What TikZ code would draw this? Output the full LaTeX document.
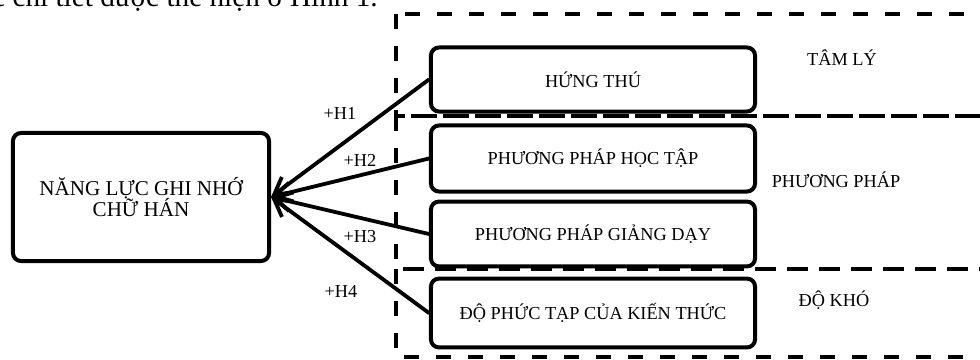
\documentclass[tikz,border=0pt]{standalone}
\usepackage{fontspec}
\setmainfont{Liberation Serif}
\usetikzlibrary{arrows.meta}
\tikzset{
  frame/.style={
    line width=1mm,
    line join=round
  },
  box/.style={
    frame,
    draw=black,
    rounded corners=0.2cm,
    minimum width=8.1cm,
    inner sep=0pt,
    font=\fontsize{13}{15}\selectfont
  },
  group-dash/.style={
    line width=1mm,
    dash pattern=on 3.75mm off 4.25mm
  },
  conn/.style={
    line width=0.95mm,
    line cap=round,
    -{Straight Barb[length=4.2mm,width=4.8mm]}
  },
  hlabel/.style={inner sep=0pt, font=\fontsize{13}{15}\selectfont},
  grouplabel/.style={inner sep=0pt, font=\fontsize{13}{15}\selectfont}
}

\begin{document}
\begin{tikzpicture}[x=0.025cm,y=-0.025cm]
  \useasboundingbox (0,0) rectangle (980,360);

  % line of running text above the figure (cut off)
  \node[anchor=base east, inner sep=0pt, font=\fontsize{20.8}{24}\selectfont]
    (caption) at (378,7) {c chi tiết được thể hiện ở Hình 1.};

  % dashed groups
  \draw[group-dash] (396,14) rectangle (1010,116);
  \draw[group-dash] (396,116) rectangle (1010,269);
  \draw[group-dash] (396,269) rectangle (1010,357);

  \node[grouplabel] (tamly) at (842,58) {TÂM LÝ};
  \node[grouplabel] (phuongphap) at (836,180) {PHƯƠNG PHÁP};
  \node[grouplabel] (dokho) at (834,300) {ĐỘ KHÓ};

  % factor boxes
  \node[box, minimum height=1.6cm] (hungthu) at (593,79.5) {HỨNG THÚ};
  \node[box, minimum height=1.65cm] (hoctap) at (593,158.5) {PHƯƠNG PHÁP HỌC TẬP};
  \node[box, minimum height=1.62cm] (giangday) at (593,234) {PHƯƠNG PHÁP GIẢNG DẠY};
  \node[box, minimum height=1.72cm] (phuctap) at (593,313) {ĐỘ PHỨC TẠP CỦA KIẾN THỨC};

  % target box
  \node[box, minimum width=6.4cm, minimum height=3.2cm, align=center,
    font=\fontsize{15}{15.4}\selectfont]
    (nangluc) at (141,197) {NĂNG LỰC GHI NHỚ\\CHỮ HÁN};

  \foreach \src in {hungthu,hoctap,giangday,phuctap}{
    \draw[conn] (\src.west) -- (nangluc.east);
  }

  \node[hlabel] (h1) at (340,113) {+H1};
  \node[hlabel] (h2) at (360,160) {+H2};
  \node[hlabel] (h3) at (360,237) {+H3};
  \node[hlabel] (h4) at (341,291) {+H4};

\end{tikzpicture}
\end{document}
